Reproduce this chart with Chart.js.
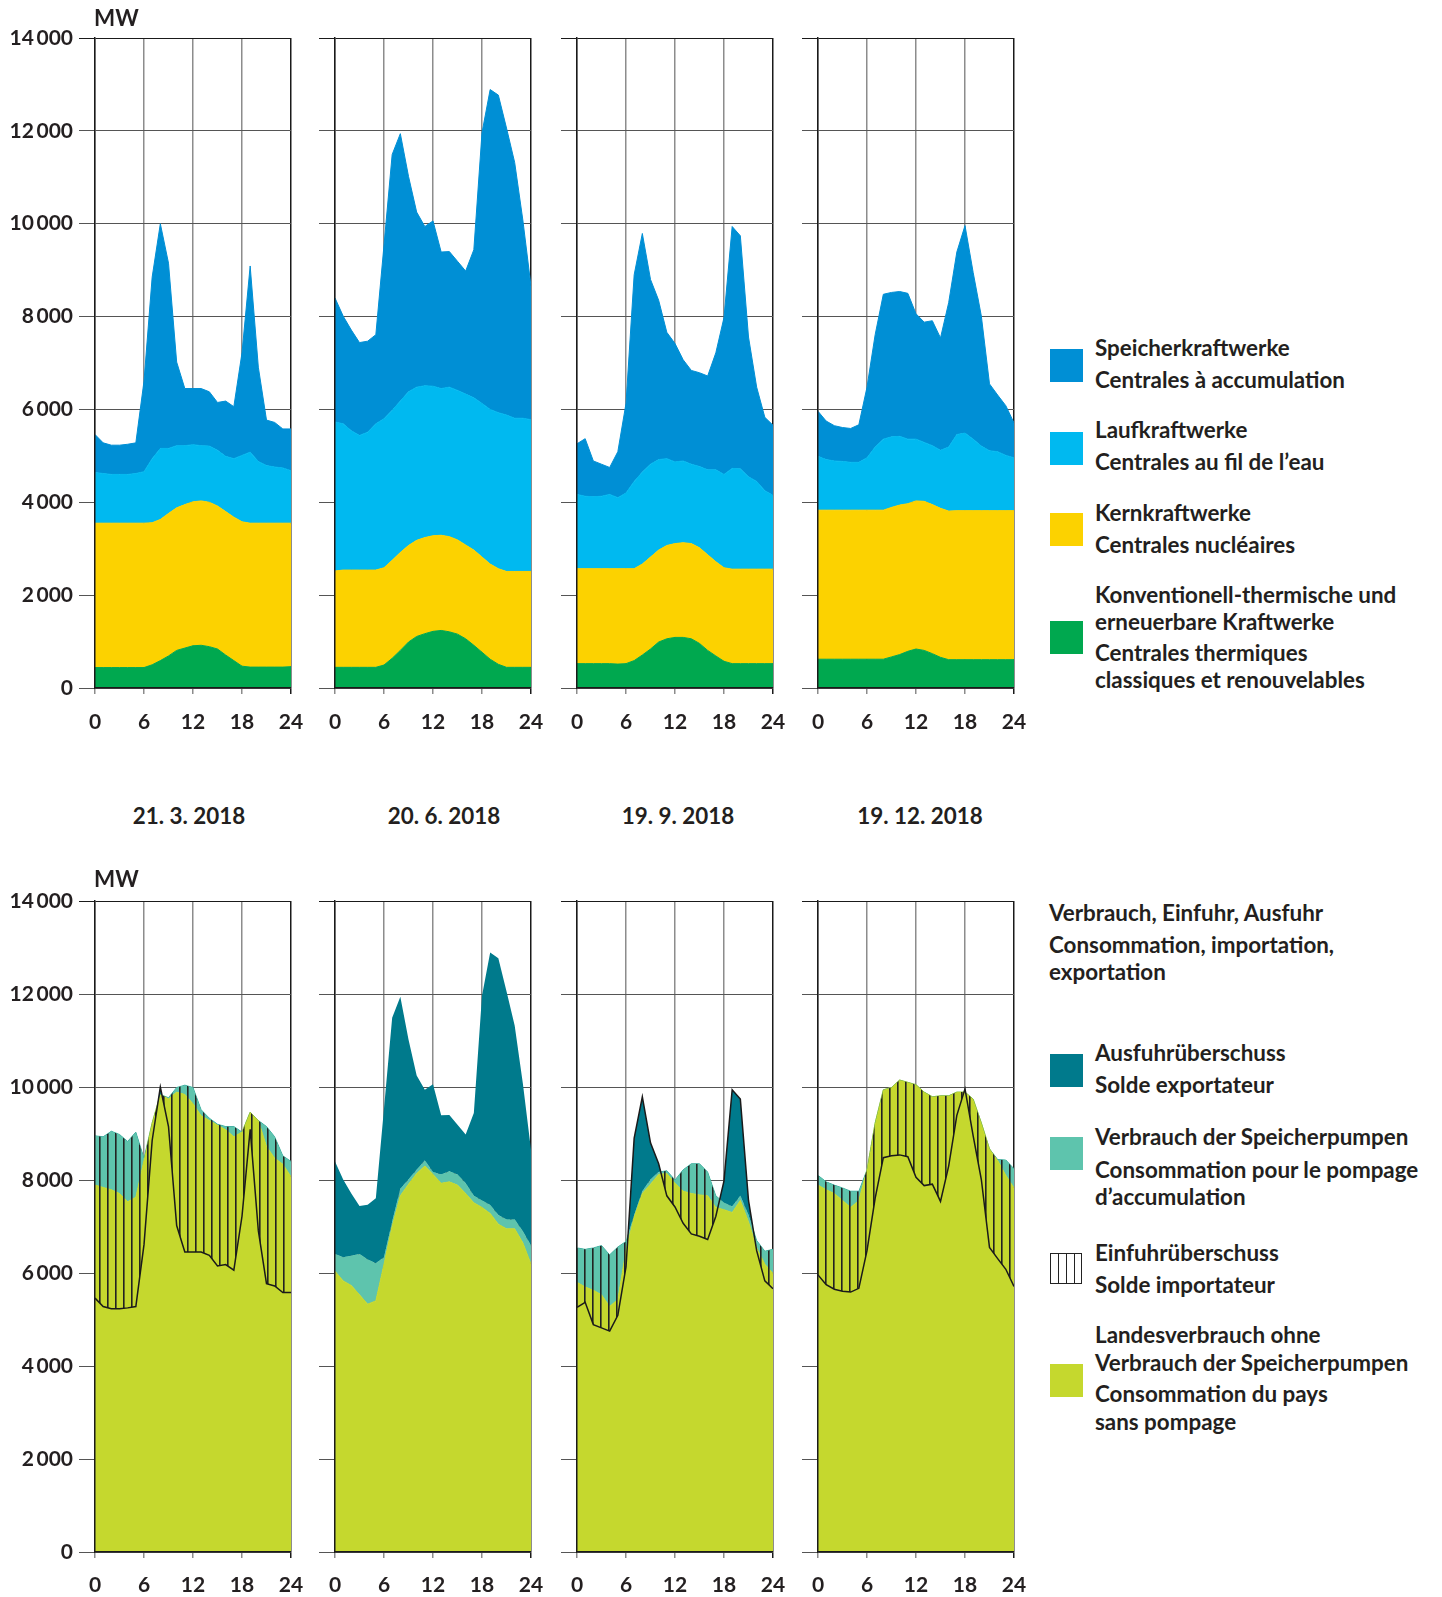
<!DOCTYPE html>
<html>
<head>
<meta charset="utf-8">
<script src="https://cdn.jsdelivr.net/npm/chart.js@4.4.1/dist/chart.umd.min.js"></script>
<style>
    body { margin: 0; background: #fff; width: 1442px; height: 1597px; position: relative; overflow: hidden;
           font-family: Lato, 'Noto Sans', sans-serif; font-weight: 700; color: #231f20; }
    canvas { position: absolute; }
    .t { position: absolute; font-size: 22.4px; line-height: 28px; white-space: nowrap; }
    .sq { position: absolute; width: 33px; height: 33px; }
    .hatch { position: absolute; width: 30px; height: 29px; border: 1.5px solid #222;
             background-image: linear-gradient(90deg, #222 1.5px, transparent 1.5px);
             background-size: 8px 100%; background-position: 7px 0; }
</style>
</head>
<body>
<script>
// x axis: hour of the day
const hours = [0, 1, 2, 3, 4, 5, 6, 7, 8, 9, 10, 11, 12, 13, 14, 15, 16, 17, 18, 19, 20, 21, 22, 23, 24];
const xTicks = [0, 6, 12, 18, 24];
const yTicks = [0, 2000, 4000, 6000, 8000, 10000, 12000, 14000];
const dates = ['21. 3. 2018', '20. 6. 2018', '19. 9. 2018', '19. 12. 2018'];

// Production (MW) - 21.3.2018
const storageMar = [820, 660, 630, 630, 650, 660, 1950, 3910, 4840, 3990, 1800, 1230, 1210, 1230, 1170, 1030, 1190, 1120, 2210, 4010, 2030, 980, 960, 840, 900];
const riverMar = [1090, 1070, 1050, 1050, 1050, 1070, 1110, 1380, 1530, 1400, 1340, 1270, 1230, 1190, 1210, 1200, 1190, 1260, 1430, 1530, 1330, 1240, 1210, 1190, 1130];
const nuclearMar = [3110, 3110, 3110, 3110, 3110, 3110, 3110, 3060, 3040, 3070, 3070, 3090, 3100, 3110, 3110, 3080, 3090, 3090, 3110, 3100, 3100, 3100, 3100, 3100, 3090];
const thermalMar = [440, 440, 440, 440, 440, 440, 440, 500, 590, 690, 810, 860, 910, 920, 890, 840, 710, 590, 470, 450, 450, 450, 450, 450, 460];
// Production (MW) - 20.6.2018
const storageJun = [2670, 2320, 2170, 2000, 1960, 1920, 3740, 5510, 5760, 4640, 3770, 3430, 3560, 2940, 2920, 2780, 2650, 3190, 5830, 6890, 6840, 6180, 5510, 4270, 2870];
const riverJun = [3210, 3150, 3000, 2900, 2970, 3150, 3210, 3230, 3260, 3310, 3300, 3270, 3220, 3160, 3220, 3220, 3250, 3280, 3310, 3330, 3360, 3370, 3300, 3300, 3270];
const nuclearJun = [2075, 2095, 2095, 2095, 2095, 2095, 2095, 2110, 2110, 2080, 2070, 2070, 2060, 2050, 2050, 2030, 2020, 2050, 2050, 2050, 2060, 2065, 2065, 2065, 2065];
const thermalJun = [445, 445, 445, 445, 445, 445, 495, 640, 810, 990, 1110, 1170, 1220, 1240, 1210, 1160, 1060, 920, 770, 620, 510, 445, 445, 445, 445];
// Production (MW) - 19.9.2018
const storageSep = [1090, 1240, 770, 690, 580, 990, 1930, 4450, 5140, 3980, 3430, 2720, 2550, 2180, 2020, 2020, 2020, 2520, 3380, 5210, 5020, 3010, 2030, 1580, 1510];
const riverSep = [1600, 1560, 1550, 1560, 1600, 1530, 1630, 1880, 1980, 2000, 1950, 1870, 1760, 1760, 1710, 1750, 1830, 1980, 2010, 2170, 2160, 1990, 1890, 1690, 1590];
const nuclearSep = [2045, 2045, 2045, 2045, 2045, 2055, 2045, 1980, 1960, 1980, 1980, 2010, 2020, 2040, 2050, 2060, 2060, 2030, 2015, 2035, 2035, 2035, 2035, 2035, 2035];
const thermalSep = [525, 525, 525, 525, 525, 515, 525, 590, 710, 840, 990, 1060, 1090, 1090, 1060, 960, 810, 690, 575, 525, 525, 525, 525, 525, 525];
// Production (MW) - 19.12.2018
const storageDec = [970, 830, 760, 730, 730, 810, 1520, 2420, 3120, 3110, 3120, 3140, 2700, 2590, 2690, 2420, 3110, 3930, 4470, 3590, 2800, 1440, 1220, 1070, 750];
const riverDec = [1160, 1090, 1060, 1050, 1030, 1030, 1130, 1360, 1530, 1520, 1480, 1390, 1330, 1270, 1270, 1250, 1380, 1640, 1670, 1540, 1390, 1290, 1270, 1190, 1140];
const nuclearDec = [3210, 3210, 3210, 3210, 3210, 3210, 3210, 3210, 3210, 3220, 3220, 3180, 3190, 3210, 3210, 3210, 3200, 3210, 3210, 3210, 3210, 3210, 3210, 3210, 3210];
const thermalDec = [620, 620, 620, 620, 620, 620, 620, 620, 620, 670, 720, 790, 840, 810, 740, 660, 610, 610, 610, 610, 610, 610, 610, 610, 610];

// Consumption without pumping and pumping consumption (MW)
const consumptionMar = [7890, 7840, 7790, 7710, 7530, 7630, 8420, 9230, 9840, 9740, 9890, 9840, 9640, 9380, 9280, 9180, 9080, 8930, 9030, 9460, 9280, 8720, 8470, 8340, 8070];
const pumpingMar = [1060, 1090, 1260, 1270, 1300, 1400, 50, 0, 0, 30, 100, 200, 350, 130, 50, 20, 70, 220, 0, 0, 0, 430, 460, 180, 330];
const consumptionJun = [6040, 5830, 5730, 5530, 5330, 5400, 6190, 7000, 7660, 7910, 8140, 8300, 8120, 7930, 7960, 7890, 7710, 7510, 7410, 7280, 7050, 6950, 6950, 6650, 6190];
const pumpingJun = [370, 510, 640, 880, 960, 810, 150, 100, 150, 100, 80, 120, 50, 190, 230, 230, 220, 150, 150, 180, 200, 200, 200, 250, 400];
const consumptionSep = [5800, 5700, 5630, 5530, 5280, 5430, 6490, 7200, 7710, 7910, 8120, 8140, 7930, 7760, 7710, 7680, 7660, 7410, 7360, 7300, 7560, 7100, 6540, 6190, 5990];
const pumpingSep = [740, 810, 910, 1060, 1110, 1130, 190, 50, 50, 100, 50, 60, 70, 460, 640, 670, 510, 250, 150, 130, 100, 150, 160, 280, 520];
const consumptionDec = [7890, 7790, 7710, 7560, 7410, 7560, 8220, 9230, 9940, 9990, 10150, 10100, 10050, 9890, 9790, 9810, 9810, 9890, 9890, 9740, 9230, 8670, 8420, 8100, 7830];
const pumpingDec = [210, 170, 180, 270, 350, 200, 0, 0, 0, 0, 0, 0, 0, 0, 0, 0, 0, 0, 0, 0, 0, 0, 20, 330, 410];

const days = [
    { storage: storageMar, river: riverMar, nuclear: nuclearMar, thermal: thermalMar, consumption: consumptionMar, pumping: pumpingMar },
    { storage: storageJun, river: riverJun, nuclear: nuclearJun, thermal: thermalJun, consumption: consumptionJun, pumping: pumpingJun },
    { storage: storageSep, river: riverSep, nuclear: nuclearSep, thermal: thermalSep, consumption: consumptionSep, pumping: pumpingSep },
    { storage: storageDec, river: riverDec, nuclear: nuclearDec, thermal: thermalDec, consumption: consumptionDec, pumping: pumpingDec }
];

const colors = {
    storage: '#008fd5', river: '#00b9f0', nuclear: '#fcd200', thermal: '#00a84f',
    exportColor: '#007a8c', pumping: '#5ec4ad', consumption: '#c5d82e', ink: '#231f20'
};

// layout
const plotLefts = [95, 335, 577, 818];
const plotWidth = 196;
const rows = [
    { canvasTop: 0, height: 740, plotTop: 38, plotBottom: 688, labelPad: 16, mw: 18 },
    { canvasTop: 863, height: 734, plotTop: 901, plotBottom: 1552, labelPad: 15, mw: 879 }
];
const dateCenters = [189, 444, 678, 920];
const lineWidths = [1.5, 0, 1.5, 1.5];

document.addEventListener('DOMContentLoaded', function() {
    const tickFont = { family: 'Lato', size: 21, weight: 'bold' };

    // vertical hatch for the import surplus
    const hc = document.createElement('canvas');
    hc.width = 8; hc.height = 8;
    const hx = hc.getContext('2d');
    hx.fillStyle = '#222';
    hx.fillRect(3, 0, 1.6, 8);
    const hatch = hx.createPattern(hc, 'repeat');

    function addText(str, x, y, center) {
        const d = document.createElement('div');
        d.className = 't';
        d.textContent = str;
        d.style.left = x + 'px';
        d.style.top = (y - 14) + 'px';
        if (center) d.style.transform = 'translateX(-50%)';
        document.body.appendChild(d);
    }

    function addBox(cls, x, y, color) {
        const d = document.createElement('div');
        d.className = cls;
        d.style.left = x + 'px';
        d.style.top = y + 'px';
        if (color) d.style.background = color;
        document.body.appendChild(d);
    }

    function makeCanvas(col, row) {
        const yW = col === 0 ? 95 : 20;
        const c = document.createElement('canvas');
        c.width = yW + plotWidth + 16;
        c.height = row.height;
        c.style.left = (plotLefts[col] - yW) + 'px';
        c.style.top = row.canvasTop + 'px';
        document.body.appendChild(c);
        return c;
    }

    function fmt(v) {
        return String(v).replace(/\B(?=(\d{3})+(?!\d))/g, '\u2009');
    }

    function chartOptions(col, row) {
        const yW = col === 0 ? 95 : 20;
        const xH = row.height - (row.plotBottom - row.canvasTop);
        return {
            responsive: false,
            animation: false,
            layout: { padding: { top: row.plotTop - row.canvasTop, right: 16, left: 0, bottom: 0 } },
            elements: { point: { radius: 0 }, line: { tension: 0 } },
            plugins: { legend: { display: false }, tooltip: { enabled: false } },
            scales: {
                x: {
                    type: 'linear', min: 0, max: 24,
                    afterBuildTicks: s => { s.ticks = xTicks.map(v => ({ value: v })); },
                    ticks: { autoSkip: false, maxRotation: 0, padding: row.labelPad, font: tickFont, color: colors.ink },
                    grid: { color: c => c.tick && c.tick.value === 24 ? '#1a1a1a' : '#8c8c8c', lineWidth: 1.5, tickLength: 6 },
                    border: { color: '#1a1a1a', width: 1.5, z: 1 },
                    afterFit: s => { s.height = xH; s.paddingLeft = 0; s.paddingRight = 0; }
                },
                y: {
                    stacked: true, min: 0, max: 14000,
                    afterBuildTicks: s => { s.ticks = yTicks.map(v => ({ value: v })); },
                    ticks: { display: col === 0, padding: 6, font: tickFont, color: colors.ink, callback: v => fmt(v) },
                    grid: { color: c => c.tick && c.tick.value === 14000 ? '#1a1a1a' : '#555', lineWidth: 1, tickLength: 16 },
                    border: { color: '#1a1a1a', width: 1.5, z: 1 },
                    afterFit: s => { s.width = yW; s.paddingTop = 0; s.paddingBottom = 0; }
                }
            }
        };
    }

    function series(values) {
        return hours.map((h, k) => ({ x: h, y: values[k] }));
    }

    function area(values, color, fill, extra) {
        return Object.assign({
            data: series(values), backgroundColor: color, borderColor: color,
            borderWidth: 1, fill: fill, pointRadius: 0
        }, extra || {});
    }

    days.forEach((day, i) => {
        // Production by plant type
        new Chart(makeCanvas(i, rows[0]), {
            type: 'line',
            data: {
                datasets: [
                    area(day.thermal, colors.thermal, 'origin'),
                    area(day.nuclear, colors.nuclear, '-1'),
                    area(day.river, colors.river, '-1'),
                    area(day.storage, colors.storage, '-1')
                ]
            },
            options: chartOptions(i, rows[0])
        });

        // Consumption, import and export
        const production = hours.map((h, k) => day.storage[k] + day.river[k] + day.nuclear[k] + day.thermal[k]);
        new Chart(makeCanvas(i, rows[1]), {
            type: 'line',
            data: {
                datasets: [
                    area(day.consumption, colors.consumption, 'origin', { stack: 'use', order: 1 }),
                    area(day.pumping, colors.pumping, '-1', { stack: 'use', order: 1 }),
                    {
                        data: series(production), stack: 'prod', order: 0,
                        borderColor: '#1a1a1a', borderWidth: lineWidths[i], backgroundColor: 'transparent',
                        fill: { target: 1, above: colors.exportColor, below: hatch }, pointRadius: 0
                    }
                ]
            },
            options: chartOptions(i, rows[1])
        });

        addText(dates[i], dateCenters[i], 816, true);
    });

    rows.forEach(r => addText('MW', 94, r.mw));

    // legend: production
    const legendTop = [
        { color: colors.storage, y: 349, lines: [['Speicherkraftwerke', 348], ['Centrales à accumulation', 380]] },
        { color: colors.river, y: 432, lines: [['Laufkraftwerke', 430], ['Centrales au fil de l’eau', 462]] },
        { color: colors.nuclear, y: 513, lines: [['Kernkraftwerke', 513], ['Centrales nucléaires', 545]] },
        { color: colors.thermal, y: 621, lines: [['Konventionell-thermische und', 595], ['erneuerbare Kraftwerke', 622], ['Centrales thermiques', 653], ['classiques et renouvelables', 680]] }
    ];
    // legend: consumption
    const legendBottom = [
        { color: colors.exportColor, y: 1054, lines: [['Ausfuhrüberschuss', 1053], ['Solde exportateur', 1085]] },
        { color: colors.pumping, y: 1137, lines: [['Verbrauch der Speicherpumpen', 1137], ['Consommation pour le pompage', 1170], ['d’accumulation', 1197]] },
        { color: null, y: 1253, lines: [['Einfuhrüberschuss', 1253], ['Solde importateur', 1285]] },
        { color: colors.consumption, y: 1364, lines: [['Landesverbrauch ohne', 1335], ['Verbrauch der Speicherpumpen', 1363], ['Consommation du pays', 1394], ['sans pompage', 1422]] }
    ];

    legendTop.concat(legendBottom).forEach(item => {
        if (item.color) addBox('sq', 1050, item.y, item.color);
        else addBox('hatch', 1050, item.y);
        item.lines.forEach(l => addText(l[0], 1095, l[1]));
    });

    addText('Verbrauch, Einfuhr, Ausfuhr', 1049, 913);
    addText('Consommation, importation,', 1049, 945);
    addText('exportation', 1049, 972);
});
</script>
</body>
</html>
